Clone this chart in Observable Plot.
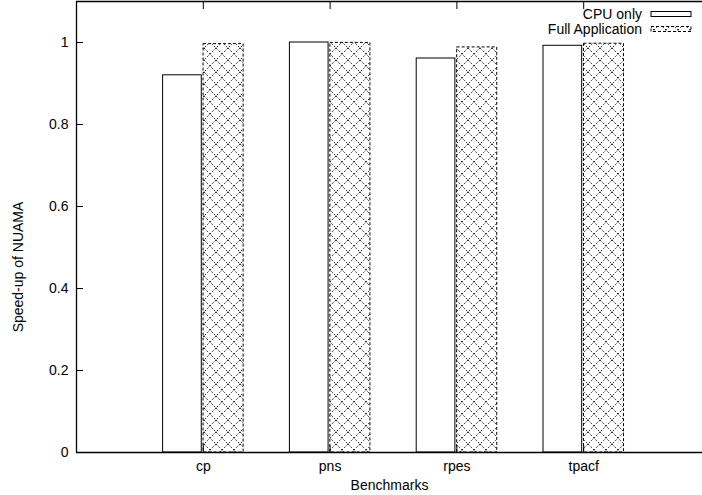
<!DOCTYPE html>
<html><head><meta charset="utf-8">
<script src="https://cdn.jsdelivr.net/npm/d3@7"></script>
<script src="https://cdn.jsdelivr.net/npm/@observablehq/plot@0.6"></script>
<style>
html,body{margin:0;padding:0;overflow:hidden;background:#fff;}
</style></head><body><div id="chart"></div>
<script>
// ---- data ----
const benchmarks = ["cp", "pns", "rpes", "tpacf"];
const cpuOnly = [0.920, 1.000, 0.961, 0.992];
const fullApplication = [0.996, 0.999, 0.988, 0.997];
const seriesNames = ["CPU only", "Full Application"];
const yTicks = [0, 0.2, 0.4, 0.6, 0.8, 1];
const yLabel = "Speed-up of NUAMA";
const xLabel = "Benchmarks";

const idx = benchmarks.map((_, i) => i);
const cpuRows = benchmarks.map((b, i) => ({bench: b, i, value: cpuOnly[i]}));
const fullRows = benchmarks.map((b, i) => ({bench: b, i, value: fullApplication[i]}));

const font = "'Liberation Sans', Arial, Helvetica, sans-serif";

const chart = Plot.plot({
  width: 702, height: 495,
  marginLeft: 76, marginRight: 0, marginTop: 1, marginBottom: 43,
  style: {fontFamily: font, fontSize: "14px", color: "#000", background: "#fff"},
  x: {domain: [-1, 4], range: [76, 710], label: null},
  y: {domain: [0, 1.1], range: [452, 1], label: null},
  marks: [
    Plot.rect(cpuRows, {x1: d => d.i - 0.317, x2: d => d.i - 0.012, y1: 0, y2: "value",
      fill: "white", stroke: "black", strokeWidth: 1}),
    Plot.rect(fullRows, {x1: d => d.i + 0.002, x2: d => d.i + 0.318, y1: 0, y2: "value",
      fill: "url(#xhatch)", stroke: "black", strokeWidth: 1, strokeDasharray: "3,2"}),
    // border
    Plot.ruleY([0, 1.1], {x1: -1, x2: 4, stroke: "black", strokeWidth: 1.3}),
    Plot.ruleX([-1], {y1: 0, y2: 1.1, stroke: "black", strokeWidth: 1.3}),
    // y axis labels + inward ticks
    Plot.axisY(yTicks, {anchor: "left", tickSize: 0, tickPadding: 8, tickFormat: d => String(d), label: null}),
    Plot.axisY(yTicks, {anchor: "left", tickSize: 7, dx: 7, tickFormat: () => "", label: null}),
    // x axis labels + inward ticks (bottom and mirrored top)
    Plot.axisX(idx, {anchor: "bottom", tickSize: 0, tickPadding: 9, tickFormat: i => benchmarks[i], label: null}),
    Plot.axisX(idx, {anchor: "bottom", tickSize: 7, dy: -7, tickFormat: () => "", label: null}),
    Plot.axisX(idx, {anchor: "top", tickSize: 7, dy: 7, tickFormat: () => "", label: null}),
    // axis titles
    Plot.text([yLabel], {frameAnchor: "left", textAnchor: "middle", rotate: -90, dx: -58, dy: 40, fontSize: 14}),
    Plot.text([xLabel], {frameAnchor: "bottom", dy: 37, fontSize: 14})
  ]
});

document.getElementById("chart").appendChild(chart);

// hatch pattern
const svg = d3.select(chart);
const defs = svg.insert("defs", ":first-child");
const pat = defs.append("pattern").attr("id", "xhatch").attr("patternUnits", "userSpaceOnUse")
  .attr("width", 12).attr("height", 12);
pat.append("rect").attr("width", 12).attr("height", 12).attr("fill", "white");
pat.append("path").attr("d", "M0,0L12,12M12,0L0,12")
  .attr("stroke", "black").attr("stroke-width", 0.8).attr("stroke-dasharray", "2,1.5").attr("fill", "none");

// legend (key) in the top-right corner
const key = svg.append("g").attr("font-family", font).attr("font-size", 14);
seriesNames.forEach((name, k) => {
  const cy = 14 + k * 15;
  key.append("text").attr("x", 642).attr("y", cy).attr("dy", "0.35em")
    .attr("text-anchor", "end").attr("fill", "black").text(name);
  key.append("rect").attr("x", 651).attr("y", cy - 2.5).attr("width", 40).attr("height", 5)
    .attr("fill", k === 0 ? "white" : "url(#xhatch)").attr("stroke", "black")
    .attr("stroke-width", 1).attr("stroke-dasharray", k === 0 ? null : "3,2");
});
</script>
</body></html>
